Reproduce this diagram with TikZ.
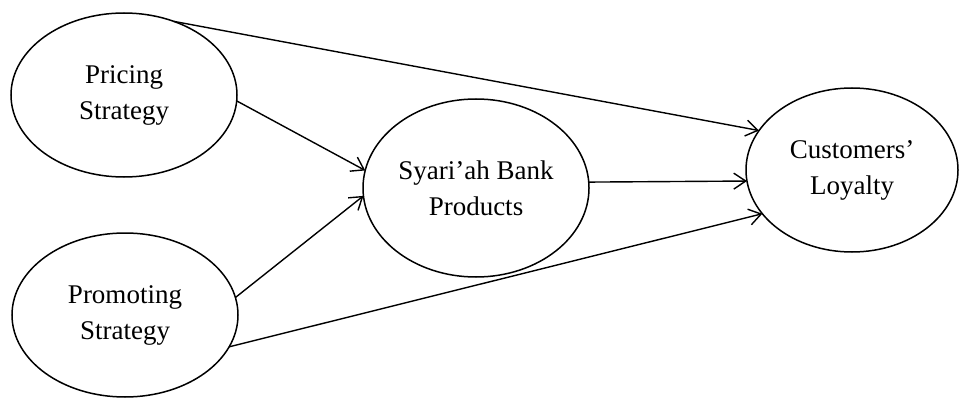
\documentclass[tikz,border=0pt]{standalone}
\usepackage{fontspec}
\setmainfont{Liberation Serif}
\usetikzlibrary{shapes.geometric,arrows.meta}
\begin{document}
\begin{tikzpicture}[x=1pt,y=-1pt,
  construct/.style={draw, ellipse, line width=1.5pt, inner sep=0pt, outer sep=0pt,
    align=center, font=\fontsize{27}{36}\selectfont},
  link/.style={line width=1.4pt, -{Straight Barb[length=12pt,width=16pt,line width=1.4pt]}}]
\useasboundingbox (0,0) rectangle (960,398);
\node[construct, minimum width=226pt, minimum height=164pt] (pricing) at (124,95) {Pricing\\Strategy};
\node[construct, minimum width=226pt, minimum height=164pt] (promo) at (125,315) {Promoting\\Strategy};
\node[construct, minimum width=226pt, minimum height=178pt] (bank) at (476,188) {Syari’ah Bank\\Products};
\node[construct, minimum width=212pt, minimum height=164pt] (cust) at (852,170) {Customers’\\Loyalty};
\draw[link] (pricing.56) -- (cust.157);
\draw[link] (pricing.-3) -- (bank.171);
\draw[link] (promo.9) -- (bank.184);
\draw[link] (promo.-17) -- (cust.206);
\draw[link] (bank.3.5) -- (cust.186);
\end{tikzpicture}
\end{document}
